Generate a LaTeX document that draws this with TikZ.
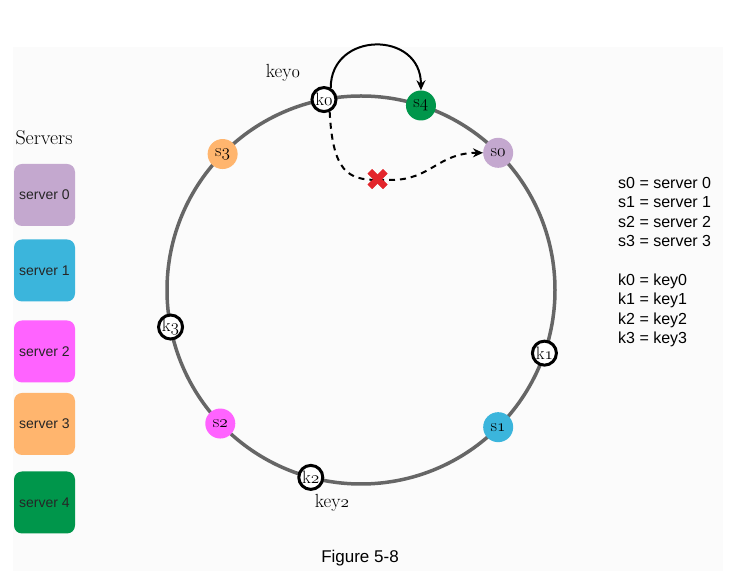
\documentclass[tikz,border=0pt]{standalone}
\usepackage{fontspec}
\setsansfont{Liberation Sans}
\newfontfamily\dingfont{DejaVu Sans}
\usetikzlibrary{arrows.meta,positioning,calc}

\definecolor{bgfill}{HTML}{FBFBFB}
\definecolor{ringgray}{HTML}{666666}
\definecolor{szero}{HTML}{C4A8CF}
\definecolor{sone}{HTML}{3BB5DC}
\definecolor{stwo}{HTML}{FF63FF}
\definecolor{sthree}{HTML}{FFB56E}
\definecolor{sfour}{HTML}{00964B}
\definecolor{crossred}{HTML}{E3262C}

% old-style figures for the ring labels
\newcommand{\osn}[1]{$\mathnormal{#1}$}

\begin{document}
\begin{tikzpicture}[
    x=1pt, y=1pt,
    srv/.style={circle, minimum size=30pt, inner sep=0pt,
                font=\fontsize{18}{18}\selectfont},
    keynode/.style={circle, draw=black, line width=3pt, fill=white,
                    minimum size=24pt, inner sep=0pt,
                    font=\fontsize{18}{18}\selectfont},
    srvbox/.style={rectangle, rounded corners=8pt, minimum width=61pt,
                   minimum height=62pt, text=black!85,
                   font=\sffamily\fontsize{14}{14}\selectfont},
    hop/.style={-{Stealth[length=10pt,width=9pt]}, line width=2pt},
    dashhop/.style={line width=2pt, dashed, dash pattern=on 6pt off 5pt}
]
  \useasboundingbox (0,0) rectangle (756,578);
  \fill[bgfill] (13,7) rectangle (723,531);

  % Hash ring
  \coordinate (ring) at (361,288);
  \draw[ringgray, line width=3.5pt] (ring) circle[radius=194];

  % Servers on the ring
  \node[srv, fill=szero] (s0) at ($(ring)+(45:194)$) {s\osn{0}};
  \node[srv, fill=sone] (s1) at ($(ring)+(-45:194)$) {s\osn{1}};
  \node[srv, fill=stwo] (s2) at ($(ring)+(223.5:194)$) {s\osn{2}};
  \node[srv, fill=sthree] (s3) at ($(ring)+(135.5:194)$) {s\osn{3}};
  \node[srv, fill=sfour] (s4) at ($(ring)+(72:194)$) {s\osn{4}};

  % Keys on the ring
  \node[keynode] (k0) at ($(ring)+(101:194)$) {k\osn{0}};
  \node[keynode] (k1) at ($(ring)+(-19:194)$) {k\osn{1}};
  \node[keynode] (k2) at ($(ring)+(255:194)$) {k\osn{2}};
  \node[keynode] (k3) at ($(ring)+(191:194)$) {k\osn{3}};

  \node[font=\fontsize{19}{19}\selectfont] (k0lbl) at (283,505) {key\osn{0}};
  \node[font=\fontsize{19}{19}\selectfont] (k2lbl) at (332,75) {key\osn{2}};

  % Lookup paths
  \node[text=crossred, inner sep=0pt, font=\dingfont\fontsize{30}{30}\selectfont]
       (cross) at (378,398) {✖};
  \draw[hop] (k0.60) .. controls +(0,57) and +(0,60) .. (s4.north);
  \draw[dashhop]
       (k0.-65) .. controls +(3,-60) and +(-30,0) .. (cross.center);
  \draw[dashhop, hop]
       (cross.center) -- (cross.east) .. controls +(40,0) and +(-45,0) .. (s0.west);
  \node[text=crossred, inner sep=0pt, font=\dingfont\fontsize{30}{30}\selectfont]
       at (cross) {✖};

  % Server legend boxes
  \node[font=\fontsize{20}{20}\selectfont] (title) at (44,440) {Servers};
  \node[srvbox, fill=szero] (box0) at (44.5,383) {server 0};
  \node[srvbox, fill=sone] (box1) at (44.5,307.5) {server 1};
  \node[srvbox, fill=stwo] (box2) at (44.5,226.5) {server 2};
  \node[srvbox, fill=sthree] (box3) at (44.5,154) {server 3};
  \node[srvbox, fill=sfour] (box4) at (44.5,75.5) {server 4};

  % Key / server names
  \node[font=\sffamily\fontsize{16}{19.4}\selectfont, align=left,
        anchor=north west, inner sep=0pt] (legend) at (618,401)
       {s0 = server 0\\ s1 = server 1\\ s2 = server 2\\ s3 = server 3\\[19.4pt]
        k0 = key0\\ k1 = key1\\ k2 = key2\\ k3 = key3};

  \node[font=\sffamily\fontsize{17}{17}\selectfont] (caption) at (360,20) {Figure 5-8};
\end{tikzpicture}
\end{document}
